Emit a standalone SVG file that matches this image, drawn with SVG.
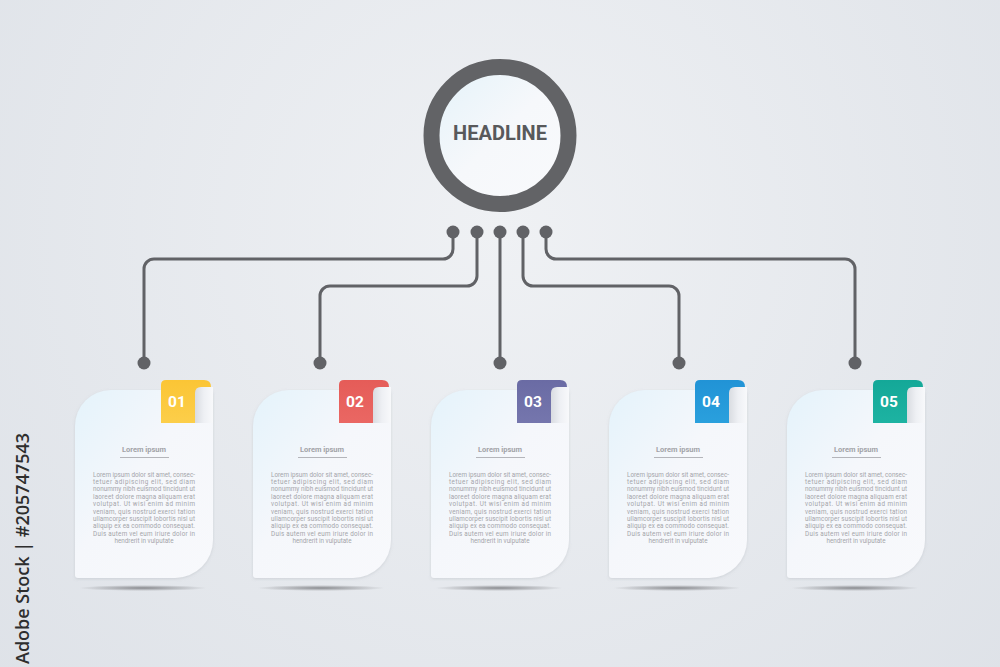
<svg xmlns="http://www.w3.org/2000/svg" width="1000" height="667" viewBox="0 0 1000 667">
<style>
.conn{fill:none;stroke:#616266;stroke-width:3;stroke-linecap:round}
.dot{fill:#616266}
.num{font-family:Roboto,'Liberation Sans',sans-serif;font-weight:bold;font-size:15.5px;fill:#fff;text-anchor:middle}
.ttl{font-family:Roboto,'Liberation Sans',sans-serif;font-weight:bold;font-size:7.5px;fill:#a2a3a8;text-anchor:middle}
.body{font-family:Roboto,'Liberation Sans',sans-serif;font-size:6.3px;fill:#a4a5aa}
.ctr{text-anchor:middle}
.rule{stroke:#b4b5ba;stroke-width:1}
.card{fill:url(#cardG);filter:url(#cs)}
.curl{fill:url(#curlG)}
.shadow{fill:url(#shG)}
</style>
<defs>
<radialGradient id="bg" cx="500" cy="230" r="720" gradientUnits="userSpaceOnUse">
<stop offset="0" stop-color="#eff1f4"/>
<stop offset="1" stop-color="#dde1e7"/>
</radialGradient>
<linearGradient id="cardG" x1="0" y1="0" x2="1" y2="1">
<stop offset="0" stop-color="#e4f3fb"/>
<stop offset="0.45" stop-color="#f5f7fb"/>
<stop offset="1" stop-color="#f8f9fc"/>
</linearGradient>
<linearGradient id="inG" x1="0" y1="0" x2="1" y2="1">
<stop offset="0" stop-color="#e3f2f9"/>
<stop offset="0.5" stop-color="#f6f8fb"/>
<stop offset="1" stop-color="#f9fafc"/>
</linearGradient>
<linearGradient id="curlG" x1="0" y1="0" x2="1" y2="0">
<stop offset="0" stop-color="#d9dce1"/>
<stop offset="0.5" stop-color="#eef0f4"/>
<stop offset="1" stop-color="#f8f9fb"/>
</linearGradient>
<radialGradient id="shG">
<stop offset="0" stop-color="#6b6c70" stop-opacity="0.75"/>
<stop offset="1" stop-color="#6b6c70" stop-opacity="0"/>
</radialGradient>
<linearGradient id="t1" x1="0" y1="0" x2="0" y2="1"><stop offset="0" stop-color="#fbc535"/><stop offset="1" stop-color="#fcce4a"/></linearGradient>
<linearGradient id="t2" x1="0" y1="0" x2="0" y2="1"><stop offset="0" stop-color="#e55c58"/><stop offset="1" stop-color="#ea6763"/></linearGradient>
<linearGradient id="t3" x1="0" y1="0" x2="0" y2="1"><stop offset="0" stop-color="#6a6ba4"/><stop offset="1" stop-color="#7576ad"/></linearGradient>
<linearGradient id="t4" x1="0" y1="0" x2="0" y2="1"><stop offset="0" stop-color="#2193d6"/><stop offset="1" stop-color="#2aa0dd"/></linearGradient>
<linearGradient id="t5" x1="0" y1="0" x2="0" y2="1"><stop offset="0" stop-color="#14a898"/><stop offset="1" stop-color="#1db3a2"/></linearGradient>
<filter id="cs" x="-10%" y="-10%" width="120%" height="120%">
<feDropShadow dx="0" dy="1" stdDeviation="1.5" flood-color="#8a9099" flood-opacity="0.25"/>
</filter>
<path id="cardShape" d="M0,426 A36,36 0 0 1 36,390 H135 Q138,390 138,393 V540 A38,38 0 0 1 100,578 H3 Q0,578 0,575 Z"/>
<path id="tabShape" d="M86,423 V385 Q86,380 91,380 H129 Q136,380 136,387 V393 H120 V423 Z"/>
<path id="curlShape" d="M120,423 V393 Q120,387 126,387 H138 V423 Z"/>
</defs>

<rect width="1000" height="667" fill="url(#bg)"/>

<text transform="translate(29,664) rotate(-90)" font-family="'Open Sans','Liberation Sans',sans-serif" font-weight="600" font-size="18" fill="#2e2e2e">Adobe Stock | #205747543</text>

<g id="headline">
<circle cx="500" cy="135.5" r="68.5" fill="url(#inG)" stroke="#626366" stroke-width="16"/>
<text x="500" y="139.5" font-family="Roboto,'Liberation Sans',sans-serif" font-weight="bold" font-size="20" fill="#58595b" text-anchor="middle">HEADLINE</text>
</g>

<g id="connectors">
<path class="conn" d="M453,232 V249 A10,10 0 0 1 443,259 H154 A10,10 0 0 0 144,269 V363"/>
<path class="conn" d="M477,232 V276 A10,10 0 0 1 467,286 H330 A10,10 0 0 0 320,296 V363"/>
<path class="conn" d="M500,232 V363"/>
<path class="conn" d="M523,232 V276 A10,10 0 0 0 533,286 H669 A10,10 0 0 1 679,296 V363"/>
<path class="conn" d="M546,232 V249 A10,10 0 0 0 556,259 H845 A10,10 0 0 1 855,269 V363"/>
<circle class="dot" cx="453" cy="232" r="6.5"/>
<circle class="dot" cx="477" cy="232" r="6.5"/>
<circle class="dot" cx="500" cy="232" r="6.5"/>
<circle class="dot" cx="523" cy="232" r="6.5"/>
<circle class="dot" cx="546" cy="232" r="6.5"/>
<circle class="dot" cx="144" cy="363" r="6.5"/>
<circle class="dot" cx="320" cy="363" r="6.5"/>
<circle class="dot" cx="500" cy="363" r="6.5"/>
<circle class="dot" cx="679" cy="363" r="6.5"/>
<circle class="dot" cx="855" cy="363" r="6.5"/>
</g>

<g id="card1" transform="translate(75,0)">
<ellipse class="shadow" cx="68" cy="588" rx="64" ry="3"/>
<use href="#cardShape" class="card"/>
<use href="#tabShape" fill="url(#t1)"/>
<use href="#curlShape" class="curl"/>
<text class="num" x="102" y="407">01</text>
<text class="ttl" x="69" y="452">Lorem ipsum</text>
<line class="rule" x1="45" y1="457.5" x2="94" y2="457.5"/>
<g class="body">
<text x="18" y="476.5" textLength="102" lengthAdjust="spacing">Lorem ipsum dolor sit amet, consec-</text>
<text x="18" y="483.9" textLength="102" lengthAdjust="spacing">tetuer adipiscing elit, sed diam</text>
<text x="18" y="491.3" textLength="102" lengthAdjust="spacing">nonummy nibh euismod tincidunt ut</text>
<text x="18" y="498.7" textLength="102" lengthAdjust="spacing">laoreet dolore magna aliquam erat</text>
<text x="18" y="506.1" textLength="102" lengthAdjust="spacing">volutpat. Ut wisi enim ad minim</text>
<text x="18" y="513.5" textLength="102" lengthAdjust="spacing">veniam, quis nostrud exerci tation</text>
<text x="18" y="520.9" textLength="102" lengthAdjust="spacing">ullamcorper suscipit lobortis nisl ut</text>
<text x="18" y="528.3" textLength="102" lengthAdjust="spacing">aliquip ex ea commodo consequat.</text>
<text x="18" y="535.7" textLength="102" lengthAdjust="spacing">Duis autem vel eum iriure dolor in</text>
<text class="ctr" x="69" y="543.1">hendrerit in vulputate</text>
</g>
</g>

<g id="card2" transform="translate(253,0)">
<ellipse class="shadow" cx="68" cy="588" rx="64" ry="3"/>
<use href="#cardShape" class="card"/>
<use href="#tabShape" fill="url(#t2)"/>
<use href="#curlShape" class="curl"/>
<text class="num" x="102" y="407">02</text>
<text class="ttl" x="69" y="452">Lorem ipsum</text>
<line class="rule" x1="45" y1="457.5" x2="94" y2="457.5"/>
<g class="body">
<text x="18" y="476.5" textLength="102" lengthAdjust="spacing">Lorem ipsum dolor sit amet, consec-</text>
<text x="18" y="483.9" textLength="102" lengthAdjust="spacing">tetuer adipiscing elit, sed diam</text>
<text x="18" y="491.3" textLength="102" lengthAdjust="spacing">nonummy nibh euismod tincidunt ut</text>
<text x="18" y="498.7" textLength="102" lengthAdjust="spacing">laoreet dolore magna aliquam erat</text>
<text x="18" y="506.1" textLength="102" lengthAdjust="spacing">volutpat. Ut wisi enim ad minim</text>
<text x="18" y="513.5" textLength="102" lengthAdjust="spacing">veniam, quis nostrud exerci tation</text>
<text x="18" y="520.9" textLength="102" lengthAdjust="spacing">ullamcorper suscipit lobortis nisl ut</text>
<text x="18" y="528.3" textLength="102" lengthAdjust="spacing">aliquip ex ea commodo consequat.</text>
<text x="18" y="535.7" textLength="102" lengthAdjust="spacing">Duis autem vel eum iriure dolor in</text>
<text class="ctr" x="69" y="543.1">hendrerit in vulputate</text>
</g>
</g>

<g id="card3" transform="translate(431,0)">
<ellipse class="shadow" cx="68" cy="588" rx="64" ry="3"/>
<use href="#cardShape" class="card"/>
<use href="#tabShape" fill="url(#t3)"/>
<use href="#curlShape" class="curl"/>
<text class="num" x="102" y="407">03</text>
<text class="ttl" x="69" y="452">Lorem ipsum</text>
<line class="rule" x1="45" y1="457.5" x2="94" y2="457.5"/>
<g class="body">
<text x="18" y="476.5" textLength="102" lengthAdjust="spacing">Lorem ipsum dolor sit amet, consec-</text>
<text x="18" y="483.9" textLength="102" lengthAdjust="spacing">tetuer adipiscing elit, sed diam</text>
<text x="18" y="491.3" textLength="102" lengthAdjust="spacing">nonummy nibh euismod tincidunt ut</text>
<text x="18" y="498.7" textLength="102" lengthAdjust="spacing">laoreet dolore magna aliquam erat</text>
<text x="18" y="506.1" textLength="102" lengthAdjust="spacing">volutpat. Ut wisi enim ad minim</text>
<text x="18" y="513.5" textLength="102" lengthAdjust="spacing">veniam, quis nostrud exerci tation</text>
<text x="18" y="520.9" textLength="102" lengthAdjust="spacing">ullamcorper suscipit lobortis nisl ut</text>
<text x="18" y="528.3" textLength="102" lengthAdjust="spacing">aliquip ex ea commodo consequat.</text>
<text x="18" y="535.7" textLength="102" lengthAdjust="spacing">Duis autem vel eum iriure dolor in</text>
<text class="ctr" x="69" y="543.1">hendrerit in vulputate</text>
</g>
</g>

<g id="card4" transform="translate(609,0)">
<ellipse class="shadow" cx="68" cy="588" rx="64" ry="3"/>
<use href="#cardShape" class="card"/>
<use href="#tabShape" fill="url(#t4)"/>
<use href="#curlShape" class="curl"/>
<text class="num" x="102" y="407">04</text>
<text class="ttl" x="69" y="452">Lorem ipsum</text>
<line class="rule" x1="45" y1="457.5" x2="94" y2="457.5"/>
<g class="body">
<text x="18" y="476.5" textLength="102" lengthAdjust="spacing">Lorem ipsum dolor sit amet, consec-</text>
<text x="18" y="483.9" textLength="102" lengthAdjust="spacing">tetuer adipiscing elit, sed diam</text>
<text x="18" y="491.3" textLength="102" lengthAdjust="spacing">nonummy nibh euismod tincidunt ut</text>
<text x="18" y="498.7" textLength="102" lengthAdjust="spacing">laoreet dolore magna aliquam erat</text>
<text x="18" y="506.1" textLength="102" lengthAdjust="spacing">volutpat. Ut wisi enim ad minim</text>
<text x="18" y="513.5" textLength="102" lengthAdjust="spacing">veniam, quis nostrud exerci tation</text>
<text x="18" y="520.9" textLength="102" lengthAdjust="spacing">ullamcorper suscipit lobortis nisl ut</text>
<text x="18" y="528.3" textLength="102" lengthAdjust="spacing">aliquip ex ea commodo consequat.</text>
<text x="18" y="535.7" textLength="102" lengthAdjust="spacing">Duis autem vel eum iriure dolor in</text>
<text class="ctr" x="69" y="543.1">hendrerit in vulputate</text>
</g>
</g>

<g id="card5" transform="translate(787,0)">
<ellipse class="shadow" cx="68" cy="588" rx="64" ry="3"/>
<use href="#cardShape" class="card"/>
<use href="#tabShape" fill="url(#t5)"/>
<use href="#curlShape" class="curl"/>
<text class="num" x="102" y="407">05</text>
<text class="ttl" x="69" y="452">Lorem ipsum</text>
<line class="rule" x1="45" y1="457.5" x2="94" y2="457.5"/>
<g class="body">
<text x="18" y="476.5" textLength="102" lengthAdjust="spacing">Lorem ipsum dolor sit amet, consec-</text>
<text x="18" y="483.9" textLength="102" lengthAdjust="spacing">tetuer adipiscing elit, sed diam</text>
<text x="18" y="491.3" textLength="102" lengthAdjust="spacing">nonummy nibh euismod tincidunt ut</text>
<text x="18" y="498.7" textLength="102" lengthAdjust="spacing">laoreet dolore magna aliquam erat</text>
<text x="18" y="506.1" textLength="102" lengthAdjust="spacing">volutpat. Ut wisi enim ad minim</text>
<text x="18" y="513.5" textLength="102" lengthAdjust="spacing">veniam, quis nostrud exerci tation</text>
<text x="18" y="520.9" textLength="102" lengthAdjust="spacing">ullamcorper suscipit lobortis nisl ut</text>
<text x="18" y="528.3" textLength="102" lengthAdjust="spacing">aliquip ex ea commodo consequat.</text>
<text x="18" y="535.7" textLength="102" lengthAdjust="spacing">Duis autem vel eum iriure dolor in</text>
<text class="ctr" x="69" y="543.1">hendrerit in vulputate</text>
</g>
</g>
</svg>
